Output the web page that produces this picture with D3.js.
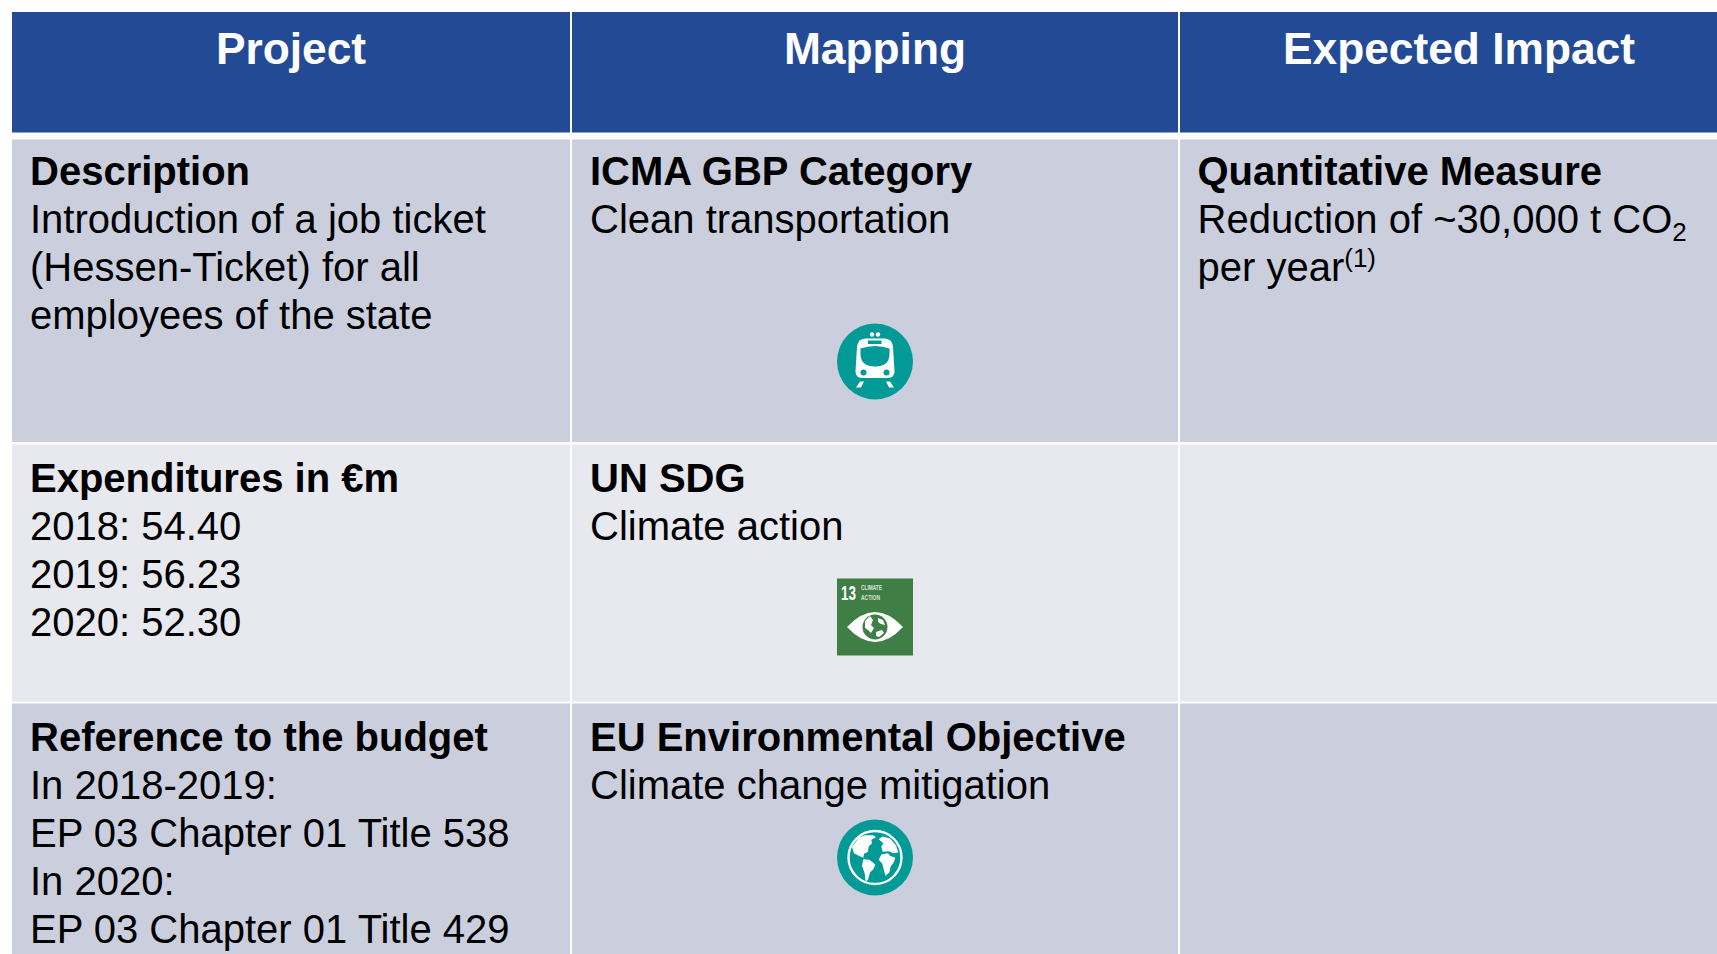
<!DOCTYPE html>
<html>
<head>
<meta charset="utf-8">
<script src="https://cdn.jsdelivr.net/npm/d3@7"></script>
<style>
html,body{margin:0;padding:0;background:#fff;overflow:hidden}
svg{display:block}
text{font-family:"Liberation Sans",Arial,sans-serif}
</style>
</head>
<body>
<script>
const columns = ["Project", "Mapping", "Expected Impact"];
const rowNames = ["header", "row1", "row2", "row3"];
const titles = [
  ["Description", "ICMA GBP Category", "Quantitative Measure"],
  ["Expenditures in €m", "UN SDG", ""],
  ["Reference to the budget", "EU Environmental Objective", ""]
];
const bodies = [
  [["Introduction of a job ticket", "(Hessen-Ticket) for all", "employees of the state"],
   ["Clean transportation"],
   ["Reduction of ~30,000 t CO_{2}", "per year^{(1)}"]],
  [["2018: 54.40", "2019: 56.23", "2020: 52.30"],
   ["Climate action"],
   []],
  [["In 2018-2019:", "EP 03 Chapter 01 Title 538", "In 2020:", "EP 03 Chapter 01 Title 429"],
   ["Climate change mitigation"],
   []]
];

const W = 1717, H = 954;
const colEdges = [12, 570, 1178, 1717];
const rowEdges = [12, 132.5, 139.5, 442, 444.5, 701.5, 703.5, 954];
const rowFill = ["#CBCFDD", "#E7E9EF", "#CBCFDD"];
const headerFill = "#234A95", teal = "#019A96", sdgGreen = "#3F7E44";
const iconCY = [361.5, 617, 857.5];
const textInset = [18, 20, 19.5];

const svg = d3.select("body").append("svg").attr("width", W).attr("height", H);
const x = d3.scaleOrdinal().domain(columns).range(colEdges.slice(0, 3));
const xEnd = d3.scaleOrdinal().domain(columns).range(colEdges.slice(1));
const colGap = 2;

// header
svg.append("g").selectAll("rect").data(columns).join("rect")
  .attr("x", d => x(d) + (d === columns[0] ? 0 : colGap))
  .attr("y", rowEdges[0])
  .attr("width", d => xEnd(d) - x(d) - (d === columns[0] ? 0 : colGap))
  .attr("height", rowEdges[1] - rowEdges[0])
  .attr("fill", headerFill);
const headerCentres = [291, 875, 1459];
svg.append("g").selectAll("text").data(columns).join("text")
  .attr("x", (d, i) => headerCentres[i]).attr("y", 64)
  .attr("text-anchor", "middle").attr("font-weight", 700)
  .attr("font-size", 44.3).attr("fill", "#fff").text(d => d);

// body rows
const FS = 40, LH = 48;
const titleBase = [185, 492, 751];
titles.forEach((row, r) => {
  const top = rowEdges[2 + r * 2], bottom = rowEdges[3 + r * 2];
  const g = svg.append("g");
  g.selectAll("rect").data(columns).join("rect")
    .attr("x", d => x(d) + (d === columns[0] ? 0 : colGap))
    .attr("y", top)
    .attr("width", d => xEnd(d) - x(d) - (d === columns[0] ? 0 : colGap))
    .attr("height", bottom - top)
    .attr("fill", rowFill[r]);
  columns.forEach((c, ci) => {
    const tx = x(c) + textInset[ci], base = titleBase[r];
    if (row[ci]) g.append("text").attr("x", tx).attr("y", base)
      .attr("font-size", FS).attr("font-weight", 700).attr("fill", "#000").text(row[ci]);
    bodies[r][ci].forEach((line, li) => {
      const t = g.append("text").attr("x", tx).attr("y", base + LH * (li + 1))
        .attr("font-size", FS).attr("fill", "#000");
      const parts = line.split(/(_\{[^}]*\}|\^\{[^}]*\})/).filter(s => s);
      let pending = 0;
      parts.forEach(p => {
        const sub = p.startsWith("_{"), sup = p.startsWith("^{");
        const shift = sub ? 8 : sup ? -14 : 0;
        t.append("tspan")
          .attr("dy", shift - pending)
          .attr("font-size", (sub || sup) ? 26 : FS)
          .text((sub || sup) ? p.slice(2, -1) : p);
        pending = shift;
      });
    });
  });
});

// icons
const ic = svg.append("g");
const cx = 875;
function poly(g, pts, fill) {
  g.append("path").attr("d", d3.line().curve(d3.curveLinearClosed)(pts)).attr("fill", fill);
}
// train
{
  const g = ic.append("g").attr("transform", `translate(${cx},${iconCY[0]})`);
  g.append("circle").attr("r", 38).attr("fill", teal);
  g.append("path").attr("fill", "#fff")
    .attr("d", "M-18,-15 Q-17,-23 -9,-23 L9,-23 Q17,-23 18,-15 L19.5,10 Q19.5,16 13,16.5 L-13,16.5 Q-19.5,16 -19.5,10 Z");
  g.append("path").attr("fill", teal)
    .attr("d", "M-14.5,-13 Q0,-18 14.5,-13 L14.5,-7 Q14,5 0,5 Q-14,5 -14.5,-7 Z");
  g.append("rect").attr("x", -7).attr("y", -21).attr("width", 13.5).attr("height", 3.5).attr("fill", teal);
  [[-11.5, 11, 3], [11.5, 11, 3]].forEach(d => g.append("circle").attr("cx", d[0]).attr("cy", d[1]).attr("r", d[2]).attr("fill", teal));
  [[-3, -27, 2.2], [3, -27, 2.2]].forEach(d => g.append("circle").attr("cx", d[0]).attr("cy", d[1]).attr("r", d[2]).attr("fill", "#fff"));
  poly(g, [[-15, 20], [-11, 20], [-14, 26], [-19, 26]], "#fff");
  poly(g, [[11, 20], [15, 20], [19, 26], [14, 26]], "#fff");
}
// SDG 13
{
  const g = ic.append("g").attr("transform", `translate(${cx},${iconCY[1]})`);
  g.append("rect").attr("x", -38).attr("y", -38.5).attr("width", 76).attr("height", 77).attr("fill", sdgGreen);
  g.append("text").attr("x", -34).attr("y", -17).attr("font-size", 21).attr("font-weight", 700)
    .attr("fill", "#fff").attr("textLength", 15).attr("lengthAdjust", "spacingAndGlyphs").text("13");
  g.append("text").attr("x", -14).attr("y", -27).attr("font-size", 6.5).attr("font-weight", 700)
    .attr("fill", "#fff").attr("opacity", .8).attr("textLength", 21).attr("lengthAdjust", "spacingAndGlyphs").text("CLIMATE");
  g.append("text").attr("x", -14).attr("y", -17.5).attr("font-size", 6.5).attr("font-weight", 700)
    .attr("fill", "#fff").attr("opacity", .8).attr("textLength", 19).attr("lengthAdjust", "spacingAndGlyphs").text("ACTION");
  const e = g.append("g").attr("transform", "translate(0,10)");
  e.append("path").attr("fill", "#fff").attr("d", "M-28,0 Q0,-30 28,0 Q0,30 -28,0 Z");
  e.append("circle").attr("r", 12.5).attr("fill", sdgGreen);
  poly(e, [[-10, -6], [-5, -11], [-2, -7], [-4, -2], [-1, 1], [-4, 6], [-7, 3], [-10, 1]], "#fff");
  poly(e, [[1, 5], [7, 3], [9, 6], [4, 10], [1, 9]], "#fff");
  poly(e, [[3, -9], [8, -7], [10, -2], [6, -3], [3, -5]], "#fff");
}
// globe
{
  const g = ic.append("g").attr("transform", `translate(${cx},${iconCY[2]})`);
  g.append("circle").attr("r", 38).attr("fill", teal);
  g.append("circle").attr("r", 26.5).attr("fill", "none").attr("stroke", "#fff").attr("stroke-width", 2.4);
  const land = [
    [[56, 46], [75, 38], [100, 38], [108, 44], [94, 52], [96, 62], [86, 72], [84, 88], [72, 94], [70, 106], [56, 100], [42, 92], [36, 74]],
    [[70, 110], [88, 112], [106, 126], [100, 140], [90, 150], [84, 172], [77, 178], [74, 152], [66, 130]],
    [[124, 96], [144, 92], [150, 100], [166, 106], [160, 122], [152, 132], [148, 150], [136, 160], [130, 135], [126, 122], [116, 112]],
    [[116, 50], [128, 42], [150, 48], [168, 68], [175, 90], [160, 92], [146, 86], [128, 88], [124, 72], [130, 62]]
  ];
  land.forEach(p => poly(g, p.map(q => [(q[0] - 105) / 3, (q[1] - 105) / 3]), "#fff"));
}
</script>
</body>
</html>
